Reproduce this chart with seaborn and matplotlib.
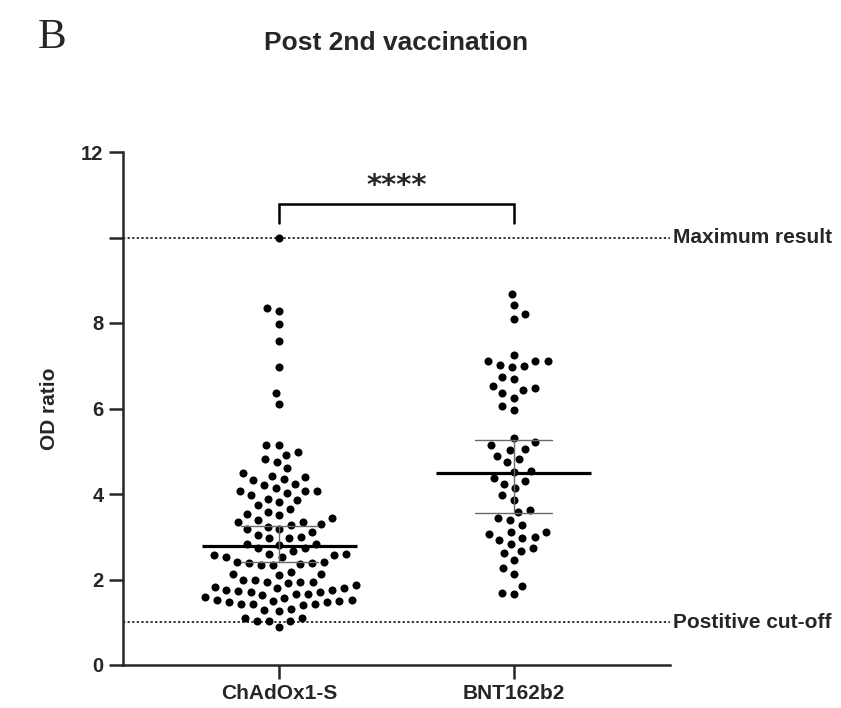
import numpy as np
import pandas as pd
import matplotlib
matplotlib.use("Agg")
import matplotlib.pyplot as plt
import matplotlib.transforms as mtransforms
import seaborn as sns

# ---------------- data ----------------
groups = ["ChAdOx1-S", "BNT162b2"]

chadox_values = [
    10.0, 8.34, 8.29, 7.97, 7.59, 6.97, 6.36, 6.10,
    1.57,
    3.35, 2.53, 2.38, 2.18, 1.99, 1.75, 1.49,
    4.42, 4.03, 3.27, 2.96, 2.80, 2.66, 2.41, 1.71, 1.43, 1.26, 1.11,
    4.92, 4.07, 3.82, 3.53, 3.23, 3.00, 2.73, 2.41, 2.14, 1.95, 1.79, 1.64, 1.48, 1.32, 0.90,
    4.98, 4.60, 4.32, 4.07, 3.86, 3.64, 3.39, 3.12, 2.59, 2.38, 1.87, 1.71, 1.58, 1.43, 1.04,
    5.14, 4.83, 4.40, 4.13, 3.89, 3.50, 3.29, 3.04, 2.84, 2.73, 2.53, 2.34, 2.14, 1.91, 1.67,
    1.48, 1.29, 1.04,
    5.14, 4.74, 4.24, 3.97, 3.74, 3.43, 3.19, 2.84, 2.57, 2.34, 1.75, 1.49, 1.04,
    4.49, 4.34, 4.21, 4.07, 3.58, 3.19, 2.98, 2.57, 2.10, 1.95, 1.83, 1.67, 1.52, 1.40, 1.09,
    3.35, 2.59, 2.37, 1.99, 1.79, 1.43,
    1.95, 1.73, 1.52,
]

bnt_values = [
    8.68, 8.41, 8.10, 8.22,
    7.10, 7.10, 7.01, 7.24, 7.10, 6.97, 6.99,
    6.70, 6.74, 6.49, 6.36, 6.43, 6.52, 6.25, 5.96, 6.07,
    5.31, 5.02, 5.22, 5.06, 4.90, 4.75, 5.14, 4.83,
    4.54, 4.52, 4.31, 4.24, 3.97, 4.38, 4.13,
    3.86, 3.62, 3.58, 3.39, 3.12, 3.45, 3.12, 2.92, 2.61, 3.27, 2.97, 2.67,
    3.06, 2.83, 3.00, 2.73, 2.45, 2.13, 1.85, 2.27, 1.65, 1.69,
]

medians = [2.79, 4.50]
q1_values = [2.40, 3.56]
q3_values = [3.24, 5.26]

ref_levels = [10, 1]
ref_labels = ["Maximum result", "Postitive cut-off"]

y_ticks = [0, 2, 4, 6, 8, 10, 12]
y_tick_labels = ["0", "2", "4", "6", "8", "", "12"]

sig_label = "****"

df = pd.DataFrame({
    "group": [groups[0]] * len(chadox_values) + [groups[1]] * len(bnt_values),
    "OD": chadox_values + bnt_values,
})

# ---------------- figure ----------------
sns.set_theme(style="ticks")
plt.rcParams["font.family"] = ["Liberation Sans", "DejaVu Sans"]
plt.rcParams["font.weight"] = "bold"

fig = plt.figure(figsize=(8.41, 7.08), dpi=100)
ax = fig.add_axes([123 / 841, 1 - 665 / 708, (670 - 123) / 841, (665 - 152) / 708])

# transparent marker edge widens the swarm spacing without enlarging the dots
sns.swarmplot(data=df, x="group", y="OD", order=groups, color="black",
              size=5.8, marker="o", linewidth=2.6, edgecolor=(1, 1, 1, 0),
              ax=ax, zorder=3, warn_thresh=1)

# median lines and IQR
for i, g in enumerate(groups):
    ax.plot([i - 0.33, i + 0.33], [medians[i]] * 2, color="black", lw=2.3, zorder=4,
            solid_capstyle="butt")
    for q in (q1_values[i], q3_values[i]):
        ax.plot([i - 0.165, i + 0.165], [q, q], color="#6a6a6a", lw=1.0, zorder=4)
    ax.plot([i, i], [q1_values[i], q3_values[i]], color="#6a6a6a", lw=1.0, zorder=4)

# reference dotted lines
xlim = (-0.667, 1.667)
trans = mtransforms.blended_transform_factory(ax.transAxes, ax.transData)
for lvl, lab in zip(ref_levels, ref_labels):
    ax.plot(xlim, [lvl, lvl], color="black", lw=1.1, ls=(0, (1.5, 1.5)), zorder=2)
    ax.text(1.006, lvl, lab, transform=trans, ha="left", va="center",
            fontsize=15, fontweight="bold", clip_on=False)

# significance bracket
ax.plot([0, 0, 1, 1], [10.33, 10.79, 10.79, 10.33], color="black", lw=1.8,
        solid_joinstyle="miter", zorder=4, clip_on=False)
ax.text(0.5, 11.2, sig_label, ha="center", va="center", fontsize=21,
        fontweight="bold", family="DejaVu Sans")

ax.set_xlim(*xlim)
ax.set_ylim(0, 12)
ax.set_yticks(y_ticks)
ax.set_yticklabels(y_tick_labels)
ax.set_xlabel("")
ax.set_ylabel("OD ratio", fontsize=15, fontweight="bold", labelpad=16)
ax.tick_params(axis="both", length=10, width=1.8, labelsize=14.5, pad=4)
for lab in ax.get_xticklabels() + ax.get_yticklabels():
    lab.set_fontweight("bold")
for lab in ax.get_xticklabels():
    lab.set_fontsize(15)

sns.despine(ax=ax)
for s in ("left", "bottom"):
    ax.spines[s].set_linewidth(1.8)

fig.text(396 / 841, 1 - 43 / 708, "Post 2nd vaccination", ha="center", va="center",
         fontsize=19, fontweight="bold")
fig.text(38 / 841, 1 - 38 / 708, "B", ha="left", va="center", fontsize=31,
         fontweight="normal", family="Liberation Serif")

fig.savefig("out.png", dpi=100)
